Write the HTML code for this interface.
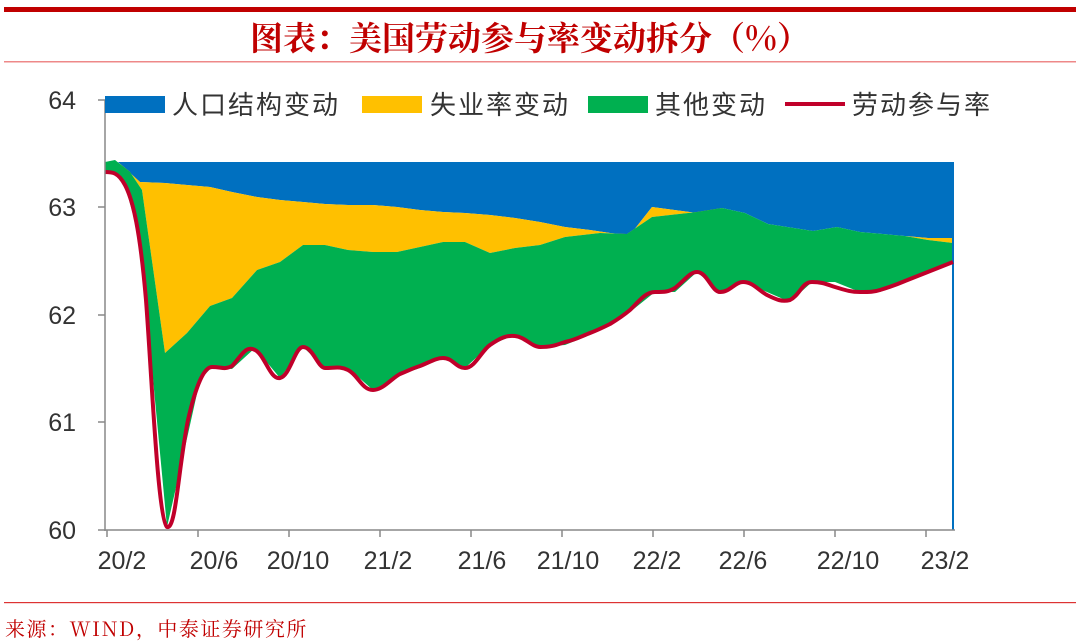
<!DOCTYPE html>
<html><head><meta charset="utf-8"><style>
body{margin:0;background:#fff;width:1080px;height:643px;overflow:hidden;font-family:"Liberation Sans","Noto Sans CJK SC",sans-serif}
</style></head><body>
<svg width="1080" height="643" xmlns="http://www.w3.org/2000/svg" style="position:absolute;left:0;top:0">
<rect x="4" y="7" width="1072" height="5" fill="#c00000"/>
<text x="530" y="50" text-anchor="middle" font-family="Noto Serif CJK SC, serif" font-weight="bold" font-size="33" fill="#c00000">图表：美国劳动参与率变动拆分（%）</text>
<rect x="4" y="61" width="1072" height="1.5" fill="#e88"/>
<!-- blue -->
<path d="M107,162 L953,162 L953,238 L928,238 L905,236 L860,232 L837,227 L813,231 L768,224 L745,213 L722,208 L697,213 L652,207 L630,235 L610,233 L590,230 L565,227 L540,222 L515,218 L490,215 L465,213 L443,212 L420,210 L397,207 L373,205 L348,205 L325,204 L303,202 L280,200 L257,197 L232,192 L210,187 L187,185 L165,183 L140,182 L118,162 Z" fill="#0070c0"/>
<!-- yellow -->
<path d="M118,162 L140,182 L165,183 L187,185 L210,187 L232,192 L257,197 L280,200 L303,202 L325,204 L348,205 L373,205 L397,207 L420,210 L443,212 L465,213 L490,215 L515,218 L540,222 L565,227 L590,230 L610,233 L630,235 L652,207 L697,213 L722,208 L745,213 L768,224 L813,231 L837,227 L860,232 L905,236 L928,238 L953,238 L953,243 L928,240 L905,236 L860,232 L837,227 L813,231 L768,224 L745,213 L722,208 L697,212 L652,217 L627,234 L600,233 L565,237 L540,245 L515,248 L490,253 L465,242 L443,242 L420,247 L397,252 L373,252 L348,250 L325,245 L303,245 L280,262 L257,270 L232,298 L210,306 L187,333 L165,353 L142,190 L130,172 Z" fill="#ffc000"/>
<!-- green -->
<path d="M105,162 L115,160 L130,172 L142,190 L165,353 L187,333 L210,306 L232,298 L257,270 L280,262 L303,245 L325,245 L348,250 L373,252 L397,252 L420,247 L443,242 L465,242 L490,253 L515,248 L540,245 L565,237 L600,233 L627,234 L652,217 L697,212 L722,208 L745,213 L768,224 L813,231 L837,227 L860,232 L905,236 L928,240 L953,243 L953,262 L930,272 L905,282 L880,292 L860,292 L835,282 L812,282 L790,302 L767,292 L743,282 L720,292 L697,272 L675,292 L655,292 L630,312 L610,325 L590,335 L565,345 L540,347 L515,335 L490,345 L465,368 L443,358 L420,368 L400,375 L373,390 L348,368 L325,368 L303,347 L280,378 L255,348 L232,369 L212,367 L200,380 L180,470 L167,527 L155,400 L140,240 L125,185 L115,173 L105,172 Z" fill="#00b050"/>
<line x1="953" y1="162" x2="953" y2="530" stroke="#0070c0" stroke-width="2"/>
<!-- line -->
<path d="M105,172 C112,172 118,172 125,185 C133,200 140,230 146,300 C152,380 158,520 167,527 C176,530 178,470 188,420 C196,385 204,367 212,367 C222,367 224,370 232,366 C242,355 246,345 255,350 C265,355 270,380 280,378 C290,376 295,347 303,347 C313,347 318,368 325,368 C335,368 340,366 348,370 C358,375 362,390 373,390 C383,390 392,378 400,374 C410,370 413,368 420,366 C430,362 436,358 443,358 C453,358 456,368 465,368 C475,368 482,350 490,345 C500,338 507,335 515,336 C525,337 532,347 540,347 C552,347 556,345 565,342 C575,340 582,336 590,333 C598,330 604,327 610,324 C620,318 624,315 630,310 C640,300 646,292 655,292 C665,292 668,292 675,288 C685,280 690,272 697,272 C707,272 712,292 720,292 C730,292 735,282 743,282 C753,282 758,290 767,295 C777,300 782,302 790,300 C800,295 802,282 812,282 C822,282 826,284 835,287 C845,290 850,292 860,292 C870,292 874,292 880,290 C890,287 898,284 905,281 L953,262" fill="none" stroke="#c0002a" stroke-width="4" stroke-linejoin="round"/>
<!-- axes -->
<line x1="105" y1="100" x2="105" y2="531" stroke="#888" stroke-width="1.5"/>
<line x1="98" y1="530" x2="955" y2="530" stroke="#888" stroke-width="1.5"/>
<g stroke="#888" stroke-width="1.5">
<line x1="98" y1="100" x2="105" y2="100"/><line x1="98" y1="207" x2="105" y2="207"/><line x1="98" y1="315" x2="105" y2="315"/><line x1="98" y1="422" x2="105" y2="422"/>
<line x1="107" y1="530" x2="107" y2="537"/><line x1="198" y1="530" x2="198" y2="537"/><line x1="289" y1="530" x2="289" y2="537"/><line x1="380" y1="530" x2="380" y2="537"/><line x1="471" y1="530" x2="471" y2="537"/><line x1="562" y1="530" x2="562" y2="537"/><line x1="653" y1="530" x2="653" y2="537"/><line x1="744" y1="530" x2="744" y2="537"/><line x1="835" y1="530" x2="835" y2="537"/><line x1="926" y1="530" x2="926" y2="537"/>
</g>
<g font-size="25" fill="#333" text-anchor="end">
<text x="76" y="109">64</text><text x="76" y="216">63</text><text x="76" y="324">62</text><text x="76" y="431">61</text><text x="76" y="539">60</text>
</g>
<g font-size="25" fill="#333" text-anchor="middle">
<text x="122" y="569">20/2</text><text x="214" y="569">20/6</text><text x="298" y="569">20/10</text><text x="388" y="569">21/2</text><text x="482" y="569">21/6</text><text x="568" y="569">21/10</text><text x="657" y="569">22/2</text><text x="743" y="569">22/6</text><text x="848" y="569">22/10</text><text x="945" y="569">23/2</text>
</g>
<!-- legend -->
<rect x="105" y="96" width="60" height="17" fill="#0070c0"/>
<rect x="362" y="96" width="60" height="17" fill="#ffc000"/>
<rect x="588" y="96" width="60" height="17" fill="#00b050"/>
<line x1="785" y1="104" x2="845" y2="104" stroke="#c0002a" stroke-width="4"/>
<g font-size="26" fill="#333" font-family="Noto Sans CJK SC, sans-serif" letter-spacing="2">
<text x="172" y="114">人口结构变动</text><text x="430" y="114">失业率变动</text><text x="655" y="114">其他变动</text><text x="852" y="114">劳动参与率</text>
</g>
<rect x="4" y="602" width="1072" height="1.2" fill="#d33"/>
<text x="5" y="636" font-size="20" fill="#c00000" font-family="Noto Serif CJK SC, serif" letter-spacing="1.5">来源：WIND，中泰证券研究所</text>
</svg>
</body></html>
